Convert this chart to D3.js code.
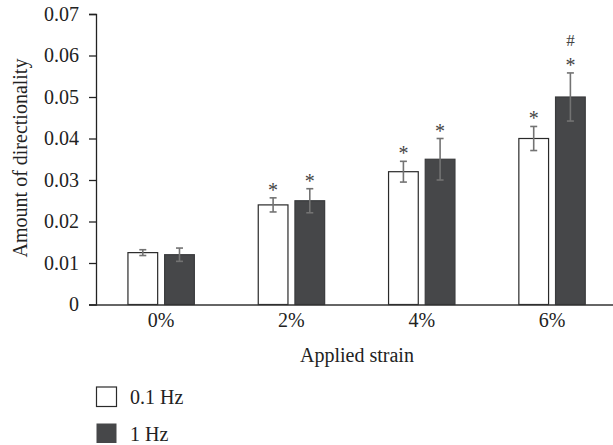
<!DOCTYPE html>
<html>
<head>
<meta charset="utf-8">
<script src="https://cdn.jsdelivr.net/npm/d3@7"></script>
<style>
  body { margin: 0; background: #fff; }
  svg { display: block; font-family: "Liberation Serif", "DejaVu Serif", serif; }
</style>
</head>
<body>
<svg id="chart" width="613" height="445"></svg>
<script>
const categories = ["0%", "2%", "4%", "6%"];
const seriesNames = ["0.1 Hz", "1 Hz"];
const values01Hz = [0.0125, 0.024, 0.032, 0.040];
const values1Hz  = [0.0120, 0.025, 0.035, 0.050];
const errors01Hz = [0.0007, 0.0017, 0.0025, 0.0029];
const errors1Hz  = [0.0016, 0.0029, 0.0050, 0.0058];
const marks01Hz  = ["", "*", "*", "*"];
const marks1Hz   = ["", "*", "*", "#\n*"];
const yTicks = [0, 0.01, 0.02, 0.03, 0.04, 0.05, 0.06, 0.07];

const FONT = "Liberation Serif, serif";
const svg = d3.select("#chart");
const axisX = 96, baseY = 304.5, topY = 14;
const x = d3.scaleBand().domain(categories).range([axisX, axisX + 4 * 130.3]).padding(0);
const inner = d3.scaleBand().domain(seriesNames).range([-33.2, 33.2]).paddingInner(0.19).paddingOuter(0);
const y = d3.scaleLinear().domain([0, 0.07]).range([baseY, topY]);

const colors = { "0.1 Hz": "#ffffff", "1 Hz": "#464749" };
const strokes = { "0.1 Hz": "#2a2a2a", "1 Hz": "#3a3b3d" };

const data = [];
categories.forEach((c, i) => {
  data.push({ cat: c, s: "0.1 Hz", v: values01Hz[i], e: errors01Hz[i], m: marks01Hz[i] });
  data.push({ cat: c, s: "1 Hz", v: values1Hz[i], e: errors1Hz[i], m: marks1Hz[i] });
});
const cxOf = d => x(d.cat) + x.bandwidth() / 2 + inner(d.s) + inner.bandwidth() / 2;

// bars
svg.append("g").selectAll("rect").data(data).join("rect")
  .attr("x", d => x(d.cat) + x.bandwidth() / 2 + inner(d.s))
  .attr("y", d => y(d.v))
  .attr("width", inner.bandwidth())
  .attr("height", d => y(0) - y(d.v))
  .attr("fill", d => colors[d.s])
  .attr("stroke", d => strokes[d.s])
  .attr("stroke-width", 1.2);

// error bars
const eg = svg.append("g").attr("stroke", "#737373").attr("stroke-width", 1.6).attr("fill", "none");
data.forEach(d => {
  const cx = cxOf(d);
  const y1 = y(d.v + d.e), y2 = y(d.v - d.e);
  eg.append("line").attr("x1", cx).attr("x2", cx).attr("y1", y1).attr("y2", y2);
  eg.append("line").attr("x1", cx - 3.5).attr("x2", cx + 3.5).attr("y1", y1).attr("y2", y1);
  eg.append("line").attr("x1", cx - 3.5).attr("x2", cx + 3.5).attr("y1", y2).attr("y2", y2);
});

// significance marks
const mg = svg.append("g").attr("fill", "#444").attr("text-anchor", "middle").attr("font-family", FONT);
data.forEach(d => {
  if (!d.m) return;
  const cx = cxOf(d);
  const lines = d.m.split("\n").reverse();
  lines.forEach((t, k) => {
    const isStar = t === "*";
    mg.append("text")
      .attr("x", cx)
      .attr("y", isStar ? y(d.v + d.e) - 1 : y(d.v + d.e) - 27)
      .attr("font-size", isStar ? 20 : 17)
      .text(t);
  });
});

// y axis
const yAxis = d3.axisLeft(y).tickValues(yTicks).tickSize(7).tickPadding(10)
  .tickFormat(d => d === 0 ? "0" : d3.format(".2f")(d));
const gy = svg.append("g").attr("transform", `translate(${axisX},0)`).call(yAxis);
gy.selectAll("text").attr("font-size", 20).attr("fill", "#222").attr("font-family", FONT);
gy.selectAll("line, path").attr("stroke", "#222").attr("stroke-width", 1.3);

// x axis
const gx = svg.append("g").attr("transform", `translate(0,${baseY})`)
  .call(d3.axisBottom(x).tickSize(0).tickPadding(8));
gx.select("path.domain").attr("d", `M${axisX - 7},0.5H613`).attr("stroke", "#333").attr("stroke-width", 1.3);
gx.selectAll("text").attr("font-size", 20).attr("fill", "#222").attr("font-family", FONT);

// axis titles
svg.append("text").attr("x", 357).attr("y", 361.5).attr("text-anchor", "middle")
  .attr("font-size", 20).attr("fill", "#222").text("Applied strain");
svg.append("text").attr("transform", "translate(27,158) rotate(-90)").attr("text-anchor", "middle")
  .attr("font-size", 20).attr("fill", "#222").text("Amount of directionality");

// legend
const lg = svg.append("g");
seriesNames.forEach((s, i) => {
  const yy = 387 + i * 36.5;
  lg.append("rect").attr("x", 96.5).attr("y", yy).attr("width", 20).attr("height", 19.5)
    .attr("fill", colors[s]).attr("stroke", i === 0 ? "#2a2a2a" : "none").attr("stroke-width", 1.2);
  lg.append("text").attr("x", 130).attr("y", yy + 17).attr("font-size", 20).attr("fill", "#222").text(s);
});
</script>
</body>
</html>
